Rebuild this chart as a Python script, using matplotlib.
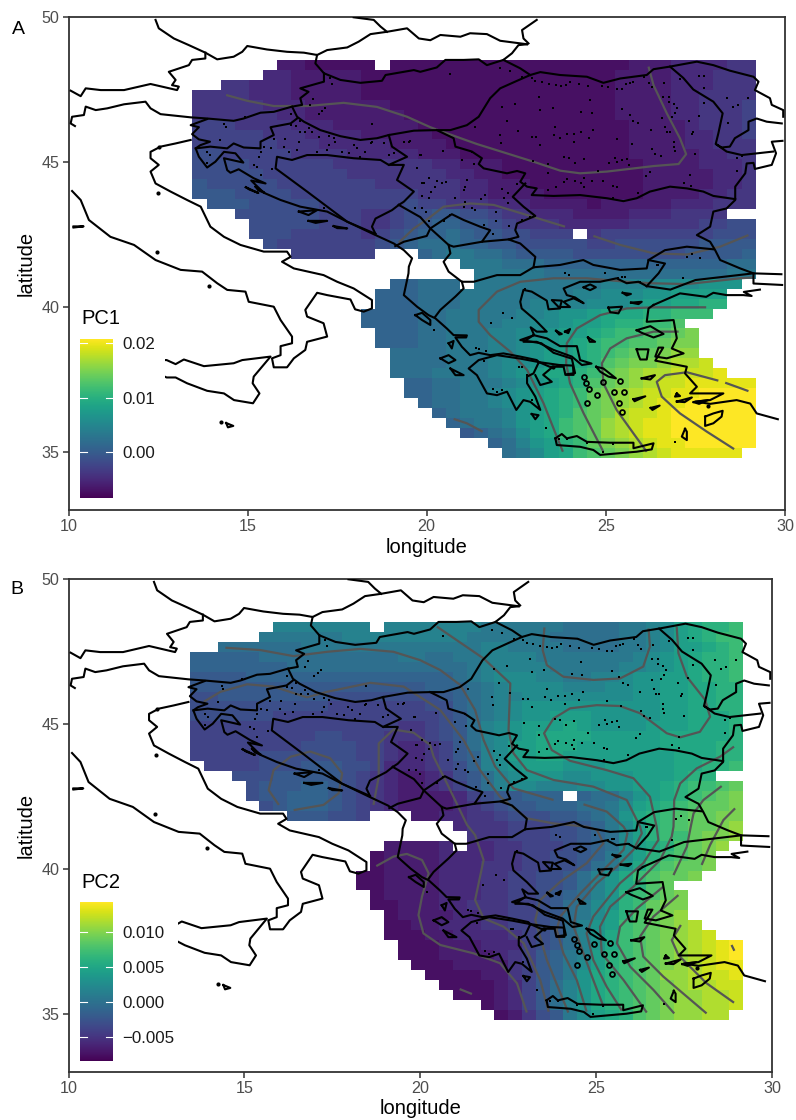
import numpy as np
import matplotlib
matplotlib.use("Agg")
import matplotlib.pyplot as plt
from matplotlib.patches import Rectangle

plt.rcParams['font.family'] = ['Liberation Sans', 'DejaVu Sans']

W, H = 796, 1120

# raster grid
grid_lon0, grid_dlon = 13.46, 0.393
grid_lat0, grid_dlat = 48.52, 0.343
LEVELS = "abcdefghijklmnopqrstuvwxyz"

pc1_range = (-0.0084, 0.0208)
pc2_range = (-0.00836, 0.01426)
pc1_ticks = [0.00, 0.01, 0.02]
pc1_ticklabels = ["0.00", "0.01", "0.02"]
pc2_ticks = [-0.005, 0.0, 0.005, 0.010]
pc2_ticklabels = ["\u22120.005", "0.000", "0.005", "0.010"]

pc1_rows = [
"..... .ccbb bbb.b bbbbb bbbbb bbbbb bcccd dddee",
"..... ddccc ccbbb bbbbb bbbbb bbbbb ccccd ddeee",
"..eed ddccc ccbbb bbbbb bbbbb bbbbb ccccd ddeee",
"eeeed ddccc ccbbb bbbbb bbbbb bbbbb ccccd deeee",
"eeeee dddcc ccccb bbbbb bbbbb bbbbb ccccd deeef",
"eeeee eddcc ccccc bbbbb bbbbb bbbbb ccccd deeef",
"fffee eeddd ccccc cbbbb bbbbb bbbbb bcccc deeef",
"fffff eeedd ddccc ccbbb bbbbb bbbbb bcccc ddeef",
"fffff feeed ddddc cccbb bbbbb bbbbb bcccc ddeee",
"ggfff ffeee edddd dcccb bbbbb bbbbb bcccc cddee",
"ggggf fffff eeeee eeddc ccbbb bbbbb bbccc cddde",
"ggggg fffff feeee eeedd ccbbb bbbbb bbccc ccdde",
"hgggg gffff fffee eeeed dcccb bbbbb bbccc ccdde",
"hhhgg ggfff fffff feeed dcccc bbbbb bbccc cddee",
".hhhg ggggf fffff gffee edddc cccbc ccccd ddeee",
"...gg ggggf ffeef gghhg gfeed ddccc cddde eee..",
"....g ggggf ffeef ghiih hgfee edddd deeee effgg",
"....g ggfff ffefg hiiji hhggf ff.ef fffff ffggg",
"..... gffff fffgh ijjji ihhgg gggff ggggg ghhhh",
"..... ..fff fff.. .ijkk jjihh hhggg ggggg hhhhi",
"..... ..... ..... ....k kkjjj iiiii iiiii iiijj",
"..... ..... ..... ..... kkkkk jjjjj jjjjj jjjkk",
"..... ..... ....i ijjj. kkkkk kkkkl lllmm mnnn.",
"..... ..... ...ii ijjjk kkkkk kkllm mmnno ooo..",
"..... ..... ...ii ijjjk kkkkl lllmm mnoop pqq..",
"..... ..... ..iii ijjkk kkkll mnnop ppqqr rr...",
"..... ..... ..iii ijjkk kkllm mnoop qqrrs .....",
"..... ..... ...ii ijjkk kllmm noopq rrsst u....",
"..... ..... ...ii ijjkk kllmn nopqr rsstu u....",
"..... ..... ....j jjjkk kllmn oopqr sttuv v....",
"..... ..... ....j jjjkk klmmn oopqs tuuvw wx...",
"..... ..... ....j jjkkk klmno ppqrt uvwwx xxy..",
"..... ..... ..... iijjk kklmn opqst uvwxx yyyyy",
"..... ..... ..... iijjk klmno pqrtu vwxxy yzzzz",
"..... ..... ..... .ijjk klmno pqrtu vwxyy zzzzz",
"..... ..... ..... ..ijk kklno pqstu wxxyz zzzzz",
"..... ..... ..... ...ij kklno prstv wxyyz zzzzz",
"..... ..... ..... ....h ijkmo prstv wxyyz zzzzz",
"..... ..... ..... ..... .ijln oqrtu vwxyy zzzzz",
"..... ..... ..... ..... ..jkm oprst uvwxy yyyy.",
]

pc2_rows = [
"..... .llll lll.l lllll lkkkk kkjjj jkklm opqqr",
"..... kkkkk kllll lllll kkkkk kjjjj jkklm opqrr",
"..jjj jjjkk kkkkk kkkkk kllkk kkjjj jkklm oopqr",
"iiiii jjjjj jjjjj kkjjk kllll kkkkk kklmn opqqr",
"iiiii iijjj jjjjj jjjjj kllll lkkkk kllmn opqqr",
"hhhhi iiiii iiiii iiiij klmmm llkkl lmnno opqqr",
"hhhhh hhhhh hhhhh hhiii jklmm mmlll mmnno oppqq",
"gghhh hhhhh ggggg ggghi jkllm mmmmm mmnno oppqq",
"ggggg ggggg fffff ffggi jklmn nnnnn nnnno oppqq",
"ggggg gffff fffff fffgh jklmn nooon nnnno opppq",
"fffff fffff fffff eefgh jlmno oopon nnnoo opppq",
"fffff ffffg gfffe eefgh jlmno ppppo oooop ppppq",
"fffff fffgg ggffe ddefh jlmoo pppoo oooop pppqq",
"fffff ggggg ggffe ddefh ilmoo ppooo ooooo pppqq",
".ffff ggghh hggfd ddefg ilmno oonnn ooooo ppqqr",
"...gg ghhhh hgfed ccdeg hjlmn nnmmn nnooo pqq..",
"....g hhhii hgfed ccdef hjlmm lllmm nnoop qrrst",
"....g hhiii hgfed ccccd fghhi ii.ij jlnop qrstu",
"..... ghiii hgfed ccccd efghh iiijj kmopq rsttu",
"..... ..hhh ggf.. .ccdd eefgg ghhij knpqr sttuu",
"..... ..... ..... ....d eeeff fgghi kmoqr sttuv",
"..... ..... ..... ..... eeeff fgghi jmoqr rtuuv",
"..... ..... ....c cccd. ddeef ffghi jmopq stuv.",
"..... ..... ...bc cccdd ddeef fgghi kmoqr stu..",
"..... ..... ...bc cccdd deeef fgghj knprs ttu..",
"..... ..... ..bbc cccdd deeff gghjl nprst tu...",
"..... ..... ..bbc cccdd deeff gghjl npqst .....",
"..... ..... ...bc cccdd deeff ghijl nqrst u....",
"..... ..... ...bb cccdd eeeff ghjkm nqrtu u....",
"..... ..... ....b ccccd deeff ghjkm oqstu v....",
"..... ..... ....b bccdd deeff ghjln orstu vw...",
"..... ..... ....b bbccd dddef ghjln prstu vwx..",
"..... ..... ..... bbbcc cdddf ghjln prstu vwxyz",
"..... ..... ..... bbbcc ccdef hiklo qrstu vwxyz",
"..... ..... ..... .bbbc cccef hikmo qrstu vwxyy",
"..... ..... ..... ..bbb bccef hiknp qrstv vwxxy",
"..... ..... ..... ...bb bbcdf hjlnp qrstu vwwxx",
"..... ..... ..... ....b bbcdf hjlnp qrstu vvwwx",
"..... ..... ..... ..... .bcdf hjlnp qrstu vvwwx",
"..... ..... ..... ..... ..bce ghkmo pqstu vvww.",
]

# coastlines and borders (lon, lat)
coast_lines = [
 # northern border chain
 [(12.43,49.9),(12.52,49.61),(12.94,49.26),(13.36,49.03),(13.82,48.77),(14.15,48.54),(14.61,48.63),(14.85,48.8),(14.99,49.0),(15.54,48.88),(16.1,48.8),(16.57,48.77),(16.94,48.69),(17.22,48.86),(17.78,48.95),(18.1,49.15),(18.43,49.41),(18.89,49.49),(19.45,49.61),(19.78,49.26),(20.1,49.2),(20.38,49.38),(20.94,49.32),(21.21,49.44),(21.68,49.41),(22.05,49.18),(22.8,49.06)],
 [(22.8,49.06),(22.56,49.03),(22.38,48.75),(22.14,48.52),(22.61,48.23),(22.89,48.0)],
 [(23.07,49.9),(22.66,49.55),(22.7,49.26),(22.84,49.09)],
 [(17.96,49.99),(18.52,49.9),(18.71,49.67),(18.89,49.49)],
 [(13.82,48.77),(13.82,48.57),(13.45,48.52),(13.36,48.34),(12.8,48.11),(12.99,47.83),(12.89,47.65),(13.08,47.6),(13.03,47.48),(12.29,47.69),(11.55,47.48),(10.9,47.48),(10.48,47.54),(10.34,47.27),(10.06,47.46)],
 [(16.94,48.69),(16.89,48.4),(17.13,48.06),(17.59,47.83),(18.15,47.73),(18.75,47.8),(18.85,48.0),(19.64,48.17),(19.82,48.11),(20.28,48.26),(20.52,48.52),(21.03,48.52),(21.45,48.54),(21.68,48.34),(22.14,48.52)],
 [(17.13,48.06),(17.13,47.77),(16.47,47.54),(16.7,47.42),(16.47,47.2),(16.52,46.97),(16.24,46.91),(15.73,46.73),(15.36,46.7),(14.89,46.5),(14.61,46.42),(13.87,46.5),(13.41,46.54),(12.57,46.65),(12.29,46.85),(12.15,47.08),(11.55,46.99),(11.08,46.85),(10.76,46.79),(10.48,46.91),(10.43,46.62),(10.1,46.56),(10.06,46.33),(10.18,46.24)],
 [(16.24,46.91),(16.38,46.56),(16.57,46.39),(17.03,46.1),(17.59,45.89),(18.15,45.76),(18.61,45.82),(18.94,45.93),(19.64,46.08),(20.28,46.1),(20.66,46.1),(21.12,46.27),(21.45,46.56),(21.77,47.2),(22.05,47.54),(22.52,47.8),(22.89,48.0),(23.17,48.1),(23.72,48.0),(24.47,47.94),(24.93,47.73),(25.4,47.88),(26.14,48.0),(26.33,48.2),(26.79,48.29),(27.54,48.46),(28.0,48.34),(28.46,48.15),(29.12,47.94),(29.26,47.77),(29.16,47.48),(29.58,47.2),(29.63,46.97),(29.95,46.79),(29.95,46.56)],
 [(26.79,48.29),(27.16,47.9),(27.44,47.5),(28.0,47.08),(28.26,46.68),(28.14,45.99),(28.07,45.64)],
 [(29.91,46.33),(29.49,46.39),(29.21,46.5),(28.98,46.39),(28.98,46.1),(28.6,45.82),(28.46,45.53),(28.23,45.5),(28.07,45.62),(28.37,45.36),(28.79,45.24),(29.67,45.36)],
 [(29.93,45.73),(29.63,45.7),(29.75,45.3),(29.63,44.9),(29.16,44.76),(29.12,44.97),(28.93,44.95),(28.89,44.61),(28.61,44.15),(28.61,43.69),(28.37,43.4),(28.0,43.29),(27.91,42.77),(27.54,42.48),(27.91,42.25),(28.05,41.96),(28.19,41.62),(28.75,41.33),(29.12,41.16)],
 [(28.61,43.72),(28.0,43.83),(27.72,43.98),(27.26,44.09),(26.79,44.15),(26.23,43.98),(25.86,43.75),(25.49,43.65),(25.03,43.75),(24.28,43.86),(23.54,43.83),(22.93,43.86),(23.07,44.09),(22.8,44.15),(22.61,44.32),(22.75,44.61),(22.52,44.69),(22.24,44.61),(21.59,44.78),(21.45,44.93),(21.54,45.13),(21.26,45.36),(20.8,45.53),(20.75,45.82),(20.28,46.1)],
 [(18.94,45.93),(19.03,45.53),(19.45,45.18),(18.94,44.9),(19.36,44.9),(19.17,44.38),(19.64,43.98),(19.36,43.63),(19.22,43.52)],
 [(18.94,44.9),(18.71,45.07),(17.96,45.13),(17.22,45.24),(16.66,45.24),(16.24,45.07),(15.82,45.18),(15.78,44.78),(16.1,44.49),(16.66,43.98),(17.22,43.46),(17.78,42.94),(18.57,42.52)],
 [(19.22,43.52),(19.03,43.34),(18.57,43.05),(18.47,42.77),(18.57,42.52)],
 [(19.22,43.52),(19.82,43.1),(20.1,42.71),(20.7,43.2),(21.03,43.0),(21.49,42.77),(21.77,42.65),(21.54,42.25),(22.28,42.33)],
 [(22.75,44.26),(22.4,43.8),(22.7,43.46),(23.03,43.14),(22.52,42.88),(22.47,42.65),(22.56,42.42),(22.28,42.33),(22.61,42.19),(23.03,41.73),(22.98,41.37)],
 [(19.12,42.1),(19.36,42.25),(20.0,42.45),(20.1,42.71),(20.61,42.14),(20.75,42.08),(21.54,42.25)],
 [(20.61,42.14),(20.66,41.85),(20.47,41.56),(20.61,41.22),(20.98,40.87),(21.31,40.87),(21.96,41.1),(22.61,41.1),(22.98,41.37),(23.72,41.45),(24.37,41.62),(24.65,41.45),(25.4,41.28),(26.14,41.33),(26.19,41.62),(26.65,41.96),(27.26,42.08),(28.0,41.99)],
 [(20.98,40.87),(21.03,40.64),(20.8,40.36),(20.38,39.9),(20.24,39.67)],
 [(26.19,41.62),(26.65,41.5),(26.47,41.16),(26.14,40.72)],
 # Slovenia and Croatia
 [(16.38,46.5),(16.2,46.33),(15.64,46.2),(15.73,45.93),(15.36,45.7),(15.36,45.47),(14.89,45.5),(14.61,45.64),(14.43,45.47),(13.96,45.53),(13.55,45.47)],
 [(13.87,46.48),(13.41,46.27),(13.64,46.2),(13.45,45.96),(13.64,45.78),(13.95,45.7),(13.68,45.58),(13.55,45.47),(13.64,45.18),(13.87,44.81),(14.1,45.01),(14.34,45.35),(14.66,45.3),(14.88,44.98),(14.34,45.13),(14.43,44.72),(14.52,44.63),(14.75,44.75),(15.17,44.44),(15.5,44.26),(15.1,44.36),(15.45,43.94),(15.92,43.69),(16.47,43.46),(17.22,43.29),(17.78,42.94),(18.57,42.48),(19.08,42.19),(19.36,41.96),(19.59,41.68),(19.5,41.39),(19.49,41.16),(19.36,40.41),(19.73,40.01),(20.05,39.72),(20.24,39.61),(20.56,39.26),(20.75,39.03),(21.12,39.02),(21.1,38.95),(20.8,38.95),(20.98,38.63),(21.21,38.34),(21.45,38.42),(21.77,38.34),(22.14,38.4),(22.61,38.29),(23.07,38.17),(23.13,38.1)],
 # Peloponnese
 [(23.13,38.1),(22.61,38.22),(21.96,38.34),(21.45,38.17),(21.17,37.88),(21.4,37.65),(21.68,37.02),(21.96,36.96),(22.24,37.08),(22.5,36.45),(22.7,36.79),(22.89,36.73),(23.17,36.45),(23.03,36.91),(22.8,37.37),(22.8,37.6),(22.98,37.71),(23.13,38.1)],
 # Attica and Thessaly
 [(23.13,38.1),(23.43,37.94),(23.52,37.94),(23.25,37.66),(23.49,37.42),(23.17,37.31),(23.03,37.65)],
 [(23.13,38.1),(23.7,38.0),(24.08,37.98),(24.1,37.66),(23.87,37.66),(23.82,37.94),(23.52,37.94)],
 [(26.14,40.72),(25.91,40.87),(25.58,40.82),(25.3,40.99),(24.84,40.87),(24.28,40.87),(23.82,40.64),(23.91,40.41),(24.14,40.33),(24.38,40.13),(24.1,40.3),(23.82,40.18),(24.0,40.0),(23.72,40.0),(23.77,40.22),(23.49,40.24),(23.72,39.95),(23.4,39.92),(23.35,40.22),(22.93,40.53),(22.7,40.59),(22.61,40.18),(22.65,39.95),(23.03,39.55),(23.35,39.15),(23.07,39.15),(22.9,39.3),(23.0,39.03),(22.61,38.86),(23.2,38.75),(23.54,38.42),(24.05,38.22),(24.14,37.72),(23.9,37.68)],
 # Evia
 [(22.98,39.03),(23.35,38.92),(23.72,38.65),(24.19,38.65),(24.28,38.17),(24.6,38.05),(24.33,38.0),(24.05,38.29),(23.54,38.52),(23.07,38.8),(22.7,38.8),(22.98,39.03)],
 # Italy
 [(13.41,45.76),(12.99,45.64),(12.57,45.53),(12.29,45.35),(12.29,45.13),(12.52,44.9),(12.29,44.67),(12.43,44.26),(12.85,43.98),(13.31,43.69),(13.69,43.46),(13.96,42.77),(14.34,42.42),(14.8,42.14),(15.45,41.91),(16.1,41.91),(16.2,41.73),(15.96,41.56),(16.29,41.33),(17.12,41.1),(17.5,40.87),(17.96,40.64),(18.47,40.24),(18.47,39.95),(18.24,39.84),(18.0,39.92),(17.87,40.26),(17.22,40.41),(16.94,40.49),(16.61,39.9),(16.66,39.67),(17.12,39.44),(17.22,38.98),(16.66,38.8),(16.61,38.52),(16.29,38.23),(16.1,37.92),(15.73,37.92),(15.68,38.23),(15.92,38.34),(15.92,38.65),(16.24,38.75),(16.24,38.98),(15.92,39.55),(15.73,40.01),(15.03,40.18),(14.94,40.53),(14.43,40.59),(14.15,40.82),(13.73,41.22),(13.13,41.28),(12.43,41.62),(11.83,42.14),(11.17,42.42),(10.57,43.0),(10.34,43.69),(10.1,44.0)],
 # Sicily
 [(12.4,38.17),(12.74,38.17),(12.99,38.03),(13.22,38.19),(13.78,37.96),(14.61,38.06),(14.85,38.17),(15.64,38.29),(15.17,37.6),(15.14,37.37),(15.33,37.02),(15.15,36.68),(14.62,36.79),(14.34,37.02),(13.87,37.11),(13.31,37.37),(12.99,37.57),(12.74,37.57),(12.4,37.75)],
 # Turkey
 [(26.14,40.72),(26.8,40.6),(27.5,40.93),(29.12,41.16),(29.9,41.13)],
 [(29.92,40.76),(29.12,40.81),(29.12,41.1)],
 [(26.33,40.07),(27.07,40.47),(27.8,40.35),(28.0,40.49),(28.37,40.41),(28.84,40.41),(29.07,40.38),(28.85,40.52),(29.3,40.6)],
 [(26.33,40.07),(26.19,39.95),(26.14,39.49),(26.89,39.55),(26.98,38.92),(26.84,38.57),(27.17,38.4),(26.7,38.23),(26.38,38.29),(26.47,38.6),(26.6,38.6),(26.38,38.15),(27.26,37.94),(27.21,37.71),(27.54,37.25),(27.35,37.02),(28.28,37.02),(27.91,36.79),(27.49,36.74),(27.91,36.66),(28.65,36.79),(29.03,36.67),(29.21,36.33),(29.8,36.13)],
 # Crete
 [(23.59,35.47),(23.77,35.62),(23.91,35.47),(24.19,35.55),(24.47,35.35),(25.12,35.32),(25.77,35.32),(25.77,35.13),(26.33,35.3),(26.28,35.09),(25.86,35.01),(24.84,34.9),(24.65,35.07),(24.28,35.18),(23.63,35.24),(23.59,35.47)],
 # larger islands
 [(27.77,36.22),(28.0,36.33),(28.26,36.42),(28.23,36.22),(28.0,35.99),(27.77,35.9),(27.77,36.22)],
 [(27.21,35.8),(27.12,35.53),(27.26,35.41),(27.26,35.7),(27.21,35.8)],
 [(26.98,37.02),(26.93,36.91),(27.07,36.93),(26.98,37.02)],
 [(26.98,36.74),(27.4,36.88),(27.2,36.72),(26.98,36.74)],
 [(27.45,36.72),(27.85,36.79),(27.6,36.66),(27.45,36.72)],
 [(25.86,39.2),(26.24,39.34),(26.61,39.07),(26.33,38.95),(26.0,39.11),(25.86,39.2)],
 [(25.86,38.54),(26.19,38.54),(26.14,38.19),(25.96,38.19),(25.91,38.34),(25.86,38.54)],
 [(26.0,37.54),(26.37,37.65),(26.24,37.5),(26.0,37.54)],
 [(25.07,39.98),(25.45,40.01),(25.35,39.78),(25.12,39.82),(25.07,39.98)],
 [(24.38,40.68),(24.56,40.78),(24.72,40.68),(24.56,40.58),(24.38,40.68)],
 [(25.47,40.49),(25.7,40.45),(25.58,40.4),(25.47,40.49)],
 [(25.7,40.15),(26.0,40.18),(25.91,40.1),(25.7,40.15)],
 [(23.61,39.18),(23.77,39.07),(23.7,39.05),(23.61,39.18)],
 [(23.86,39.15),(24.0,39.24),(23.95,39.1),(23.86,39.15)],
 [(24.5,38.95),(24.7,38.8),(24.55,38.8),(24.5,38.95)],
 [(20.61,38.75),(20.75,38.83),(20.7,38.57),(20.61,38.75)],
 [(20.38,38.23),(20.61,38.34),(20.8,38.17),(20.61,38.06),(20.38,38.23)],
 [(20.66,37.88),(21.03,37.65),(20.8,37.65),(20.66,37.88)],
 [(22.93,36.31),(23.12,36.27),(23.03,36.13),(22.93,36.31)],
 [(24.73,37.94),(24.93,37.88),(25.28,37.54),(25.07,37.6),(24.84,37.77),(24.73,37.94)],
 [(19.68,39.72),(19.87,39.8),(20.1,39.55),(20.1,39.38),(19.87,39.55),(19.68,39.72)],
 [(25.77,36.82),(26.1,36.92),(25.8,36.75),(25.77,36.82)],
 [(26.25,36.52),(26.5,36.6),(26.3,36.45),(26.25,36.52)],
 # Adriatic islands
 [(14.95,44.13),(15.3,43.93),(15.05,44.05),(14.95,44.13)],
 [(15.22,44.15),(15.47,43.94),(15.3,44.02),(15.22,44.15)],
 [(16.43,43.29),(16.94,43.34),(16.7,43.17),(16.43,43.29)],
 [(16.7,42.97),(17.22,42.97),(16.9,42.9),(16.7,42.97)],
 [(17.4,42.79),(17.78,42.71),(17.5,42.72),(17.4,42.79)],
 [(14.4,36.0),(14.6,35.9),(14.45,35.85),(14.4,36.0)],
 # Tyrrhenian islet
 [(10.14,42.78),(10.42,42.78),(10.14,42.74)],
]

small_islands_lon = [24.38,24.45,24.52,24.75,24.93,25.4,25.23,25.51,25.37,25.45,24.47]
small_islands_lat = [37.6,37.39,37.16,36.97,37.42,37.46,37.06,37.06,36.7,36.39,36.7]
islet_lon = [27.86,13.93,12.5,12.52,14.25,23.52,12.46]
islet_lat = [36.59,40.72,43.94,45.5,36.04,37.94,41.9]

# sampling localities
site_lon = [17.29,17.36,16.82,16.73,17.17,17.08,16.99,16.22,16.46,16.2,16.36,16.71,16.61,16.8,16.47,16.99,17.26,17.4,16.03,16.01,15.73,15.47,15.64,15.36,15.31,16.43,16.38,16.15,16.94,17.22,17.26,17.45,17.64,17.82,17.96,18.05,18.29,18.43,18.47,18.8,18.15,18.47,14.94,14.35,14.4,14.24,13.87,13.96,13.87,15.17,15.27,15.36,15.68,18.94,19.08,19.36,19.5,19.54,19.84,19.73,20.05,19.91,19.87,20.05,19.68,19.87,17.13,
20.66,22.05,22.31,22.66,22.93,23.03,23.21,23.4,23.61,23.74,23.89,24.0,24.26,24.5,24.89,25.07,25.3,25.45,25.57,25.68,25.77,26.07,26.19,26.28,26.63,27.07,27.61,27.74,27.74,28.37,28.98,28.7,28.56,27.75,27.61,27.32,28.42,26.6,26.75,26.75,26.9,26.98,26.93,26.84,26.58,26.65,26.7,26.79,26.89,26.89,26.93,27.43,27.4,27.49,26.28,26.37,26.53,26.25,25.91,25.77,25.66,25.45,24.56,23.12,22.1,22.47,23.17,23.52,24.31,24.61,22.24,22.56,21.35,22.05,22.07,22.93,23.05,23.17,23.59,23.54,23.73,23.91,24.12,24.3,24.64,24.52,24.12,25.3,25.72,23.84,23.98,24.14,24.38,22.96,23.38,23.38,24.77,25.09,25.26,25.31,25.45,25.58,25.65,27.35,26.24,26.12,23.91,23.84,24.14,24.38,24.3,24.38,24.61,24.93,23.61,23.38,25.21,25.32,27.17,27.37,25.91,25.21,28.67,28.81,28.67,
19.82,20.45,20.98,21.26,21.31,20.05,19.87,20.28,20.42,20.55,20.24,20.12,19.87,21.12,21.08,21.03,21.63,21.52,20.8,21.08,21.03,21.35,21.26,22.1,22.26,22.17,22.28,21.94,21.94,21.59,22.3,21.85,19.87,19.99,20.05,20.47,20.66,22.66,22.89,22.52,27.4,27.26,27.63,26.42,
23.85,23.96,24.98,25.35,25.45,25.52,25.94,26.45,27.15,22.75,22.14,22.38,21.79,20.19,21.37,21.45,21.65,21.6,22.58,22.65,22.8,21.85,21.96,22.1,22.24,22.93,23.33,23.68,23.91,24.47,25.19,24.92,26.93]
site_lat = [47.88,47.68,47.18,46.96,46.85,46.76,46.64,46.65,46.41,46.27,46.25,46.16,46.04,46.04,46.04,45.87,45.9,45.84,45.8,45.53,45.8,45.53,45.47,45.36,45.18,45.7,45.41,45.36,45.36,45.41,45.58,45.68,45.36,45.3,45.58,45.47,45.36,45.64,45.7,45.64,45.18,46.31,46.54,46.31,46.22,45.76,45.36,45.24,44.95,44.9,44.84,44.55,44.76,45.24,45.3,45.7,45.7,45.72,45.24,44.8,44.44,44.26,43.83,43.75,43.4,43.42,43.4,
48.03,48.23,48.14,47.94,47.88,47.79,47.77,47.69,47.65,47.63,47.65,47.77,47.69,47.62,47.62,47.57,47.5,47.5,47.69,47.73,47.77,47.94,47.73,47.6,47.73,47.85,47.96,47.96,47.54,47.2,47.2,46.97,46.91,47.04,46.59,46.41,46.36,47.25,47.23,47.08,46.99,46.85,46.68,46.54,46.53,46.22,46.02,46.02,45.7,45.53,45.39,46.04,45.96,45.27,45.46,45.27,45.22,46.1,46.33,46.42,46.62,46.83,47.14,47.23,46.91,47.0,46.79,46.85,46.73,46.7,46.41,46.08,46.2,45.93,45.64,45.87,45.87,45.59,46.22,45.93,45.82,45.96,45.96,46.02,46.1,45.82,45.7,45.79,45.62,45.18,45.13,44.98,45.09,45.03,44.93,44.61,44.69,44.98,45.13,45.01,45.07,45.09,44.9,44.55,44.67,44.53,44.41,44.32,44.35,44.44,44.26,44.13,44.35,44.35,44.13,44.03,44.17,44.15,44.29,44.18,43.94,43.75,45.13,45.22,44.7,
45.24,45.39,45.07,45.36,44.93,44.44,44.29,44.35,44.26,44.3,44.13,43.98,43.83,44.38,44.15,44.03,43.86,43.72,43.75,43.63,43.46,43.34,43.4,44.07,43.92,43.75,43.6,43.29,42.98,42.83,42.79,42.52,43.4,43.26,42.98,42.98,43.17,43.0,43.11,44.24,41.83,41.73,41.68,41.45,
41.18,41.11,41.18,41.01,41.05,41.05,40.87,41.45,41.01,40.62,39.8,39.63,39.44,39.2,38.57,38.55,38.49,38.14,37.94,37.94,37.65,37.17,37.08,37.14,37.08,36.79,35.84,35.44,35.45,35.3,35.26,35.01,35.36]

pc1_contours = [
 [(14.4,47.31),(14.99,47.11),(15.73,46.93),(16.66,46.93),(17.68,47.04),(18.61,46.9),(19.45,46.56),(20.1,46.2),(20.56,45.99),(21.4,45.62),(22.98,45.01),(23.73,44.7),(24.28,44.61),(25.03,44.67),(26.33,44.86),(27.03,44.93),(27.24,45.27),(27.07,45.81),(26.7,46.68),(26.33,47.65),(26.19,48.29)],
 [(19.22,42.22),(19.64,42.71),(20.01,43.02),(20.47,43.46),(21.21,43.57),(21.87,43.52),(22.8,43.17),(23.86,42.77)],
 [(24.65,42.45),(25.4,42.14),(26.33,41.85),(27.26,41.81),(28.19,42.08),(28.98,42.48)],
 [(20.75,36.14),(21.12,35.99),(21.56,35.7)],
 [(29.12,41.02),(28.75,40.99),(27.26,40.79),(26.24,40.82),(25.58,40.87),(24.47,40.99),(23.54,40.99),(22.61,40.87),(21.96,40.53),(21.45,39.9),(21.45,39.49),(21.77,39.03),(22.33,38.46),(22.8,37.83),(23.26,36.68),(23.63,35.53),(23.8,35.01)],
 [(27.8,39.99),(26.33,39.99),(25.58,39.95),(24.84,39.72),(24.19,39.26),(23.91,38.75),(23.89,38.06),(24.0,37.37),(24.38,36.33),(24.93,35.01)],
 [(27.03,39.15),(26.33,39.15),(25.58,38.92),(25.12,38.57),(24.89,38.06),(24.93,37.37),(25.3,36.45),(25.77,35.64),(26.14,35.01)],
 [(28.98,37.1),(28.33,37.39)],
 [(28.14,37.46),(27.26,37.75),(26.65,37.65),(26.42,37.42),(26.56,36.91),(27.07,36.33),(27.82,35.7),(28.58,35.1)],
]

pc2_contours = [
 [(14.46,47.63),(15.45,47.55),(16.4,47.34),(17.35,47.49),(18.3,47.59),(19.24,47.49),(20.0,47.2),(20.57,46.86),(21.14,46.34),(21.56,45.48),(21.8,44.45),(22.13,43.53),(22.65,42.78),(23.79,42.38)],
 [(24.64,42.23),(25.3,41.98),(25.78,41.46),(25.89,41.23),(25.78,40.66),(25.21,39.97),(24.55,39.16),(23.98,38.36),(23.88,37.9),(24.07,37.09),(24.45,36.17),(24.73,35.08)],
 [(13.85,45.77),(14.32,46.11),(15.08,46.37),(15.83,46.29),(16.78,45.92),(17.35,46.11),(18.58,46.42),(19.53,46.29),(20.28,45.71),(20.57,45.48),(21.23,44.45),(21.7,43.41),(22.27,42.49),(23.03,41.75),(23.79,41.57),(24.73,41.46),(25.02,41.35),(25.21,40.89),(24.73,40.2),(23.98,39.56),(23.41,38.93),(23.27,38.24),(23.6,36.86),(24.21,35.05)],
 [(15.98,42.21),(15.69,42.72),(15.83,43.41),(16.31,43.87),(16.87,44.05),(17.44,43.82),(17.78,43.3),(17.68,42.61),(17.25,42.21),(16.4,42.03)],
 [(18.67,42.21),(18.82,43.18),(18.82,44.33),(19.24,44.81),(19.81,44.7),(20.28,44.28),(20.38,43.87),(20.76,42.95),(21.33,41.52),(21.56,41.17),(21.8,40.31),(21.56,38.93),(21.8,38.3),(22.37,38.01),(22.94,37.44),(23.41,36.17),(23.65,35.08)],
 [(18.75,40.1),(19.24,40.43),(19.62,40.52),(20.05,40.31),(20.24,39.85),(20.05,39.05),(19.95,38.41),(20.09,37.78),(20.57,37.38),(21.52,37.09),(22.27,36.75),(22.75,36.06),(23.03,35.05)],
 [(21.12,35.86),(21.47,35.69)],
 [(20.47,48.36),(21.8,47.26),(22.56,46.4),(22.51,44.79),(22.65,43.99),(23.03,43.41),(23.79,43.07),(24.92,42.84),(25.87,42.38),(26.25,41.46),(26.3,41.23),(26.06,40.66),(25.59,40.08),(25.02,39.51),(24.45,38.7),(24.36,38.01),(24.64,37.09),(24.92,36.17),(25.21,35.25)],
 [(26.49,48.3),(26.53,47.67),(26.34,46.98),(25.68,46.57),(24.92,46.52),(24.07,46.63),(23.6,47.03),(23.48,47.55),(23.53,48.33)],
 [(27.29,48.36),(27.34,47.44),(27.58,46.63),(28.1,45.83),(28.24,45.25),(27.95,44.73),(27.39,44.54),(27.01,44.68),(26.25,45.37),(25.68,45.62),(25.02,45.65),(24.26,45.54),(23.79,45.19),(23.52,44.68),(23.74,44.1),(24.26,43.73),(25.3,43.41),(26.06,43.13),(26.53,42.49),(26.72,41.46),(26.77,41.0),(26.34,40.2),(25.68,39.51),(24.92,38.36),(24.73,37.78),(24.92,36.86),(25.3,35.94),(25.73,35.12)],
 [(28.92,44.22),(28.52,43.87),(27.86,43.47),(27.39,42.95),(27.22,42.38),(27.2,41.46),(27.15,41.12),(26.82,40.31),(26.06,39.39),(25.4,38.7),(25.11,38.01),(25.16,37.09),(25.78,36.17),(26.44,35.05)],
 [(28.57,42.86),(28.05,42.38),(27.77,41.92),(27.69,41.46),(27.58,40.77),(27.2,39.79)],
 [(26.91,39.39),(26.16,38.64),(25.68,38.01),(25.59,37.44),(25.97,36.63),(26.63,35.83),(27.22,35.02)],
 [(28.95,42.09),(28.62,41.69),(28.24,40.83),(28.0,40.14)],
 [(27.34,39.1),(26.63,38.36),(26.25,37.67),(26.34,36.98),(26.91,36.29),(28.14,35.02)],
 [(27.41,38.07),(27.15,37.55),(27.34,37.03),(28.14,36.06),(28.92,35.39)],
 [(28.85,37.38),(28.93,37.18)],
]


def decode(rows, vrange):
    vmin, vmax = vrange
    out = np.full((40, 40), np.nan)
    for r, row in enumerate(rows):
        s = row.replace(" ", "").ljust(40, ".")[:40]
        for c, ch in enumerate(s):
            if ch != ".":
                out[r, c] = vmin + LEVELS.index(ch) / 25 * (vmax - vmin)
    return np.ma.masked_invalid(out)


def fig_box(x0, y0, x1, y1):
    return [x0 / W, 1 - y1 / H, (x1 - x0) / W, (y1 - y0) / H]


def panel(box, rows, vrange, contours, letter, letter_xy, name, name_xy, cbox,
          ticks, ticklabels, legend_box, xlabel_y):
    ax = fig.add_axes(fig_box(*box))
    ax.set_facecolor("white")
    lon_edges = grid_lon0 + grid_dlon * np.arange(41)
    lat_edges = grid_lat0 - grid_dlat * np.arange(41)
    mesh = ax.pcolormesh(lon_edges, lat_edges, decode(rows, vrange), cmap="viridis",
                         vmin=vrange[0], vmax=vrange[1], zorder=1, linewidth=0,
                         edgecolors="none", antialiased=False)
    for line in contours:
        xy = np.array(line)
        ax.plot(xy[:, 0], xy[:, 1], color="#555555", lw=1.6, zorder=2,
                solid_capstyle="butt", solid_joinstyle="round")
    for line in coast_lines:
        xy = np.array(line)
        ax.plot(xy[:, 0], xy[:, 1], color="black", lw=1.5, zorder=3,
                solid_joinstyle="round")
    ax.plot(small_islands_lon, small_islands_lat, ls="none", marker="o", ms=3.5, mfc="none",
            mec="black", mew=1.3, zorder=3)
    ax.plot(islet_lon, islet_lat, ls="none", marker="o", ms=3, color="black", mew=0, zorder=3)
    ax.scatter(site_lon, site_lat, s=4.6, marker="s", color="black", linewidths=0, zorder=4)
    ax.set_xlim(10, 30)
    ax.set_ylim(33, 50)
    ax.set_xticks([10, 15, 20, 25, 30])
    ax.set_yticks([35, 40, 45, 50])
    ax.tick_params(length=4, width=1.1, color="#333333", labelcolor="#4d4d4d",
                   labelsize=11.6, pad=2.5)
    for s in ax.spines.values():
        s.set_color("#333333")
        s.set_linewidth(1.3)
    ax.set_xlabel("longitude", fontsize=14.5, color="black", va="center")
    ax.set_ylabel("latitude", fontsize=14.5, color="black", va="center")
    ax.xaxis.set_label_coords(0.5, -(xlabel_y - box[3]) / (box[3] - box[1]))
    ax.yaxis.set_label_coords((26 - box[0]) / (box[2] - box[0]), 0.5)

    fig.add_artist(Rectangle((legend_box[0] / W, 1 - legend_box[3] / H),
                             (legend_box[2] - legend_box[0]) / W,
                             (legend_box[3] - legend_box[1]) / H,
                             transform=fig.transFigure, fc="white", ec="none", zorder=5))
    cax = fig.add_axes(fig_box(*cbox), zorder=6)
    cb = fig.colorbar(mesh, cax=cax, ticks=ticks)
    cb.outline.set_visible(False)
    cb.set_ticklabels(ticklabels)
    cax.tick_params(length=0, pad=6.5, labelsize=12.2, labelcolor="#1a1a1a")
    for t in ticks:
        cax.plot([0, 0.2], [t, t], color="white", lw=0.8, transform=cax.get_yaxis_transform())
        cax.plot([0.8, 1.0], [t, t], color="white", lw=0.8, transform=cax.get_yaxis_transform())
    fig.text(name_xy[0] / W, 1 - name_xy[1] / H, name, fontsize=14.5, color="black",
             ha="left", va="center", zorder=7)
    fig.text(letter_xy[0] / W, 1 - letter_xy[1] / H, letter, fontsize=14, color="black",
             ha="left", va="center", zorder=7)


fig = plt.figure(figsize=(W / 100, H / 100), dpi=100, facecolor="white")
panel((68.5, 17, 785, 510), pc1_rows, pc1_range, pc1_contours, "A", (12, 29), "PC1", (81, 319),
      (80, 339, 113, 498), pc1_ticks, pc1_ticklabels, (72, 304, 165, 506), 548)
panel((68.5, 579, 772, 1072), pc2_rows, pc2_range, pc2_contours, "B", (10, 590), "PC2", (81, 882),
      (80, 902, 113, 1061), pc2_ticks, pc2_ticklabels, (72, 866, 178, 1068), 1109)
fig.savefig("out.png", dpi=100, facecolor="white")
